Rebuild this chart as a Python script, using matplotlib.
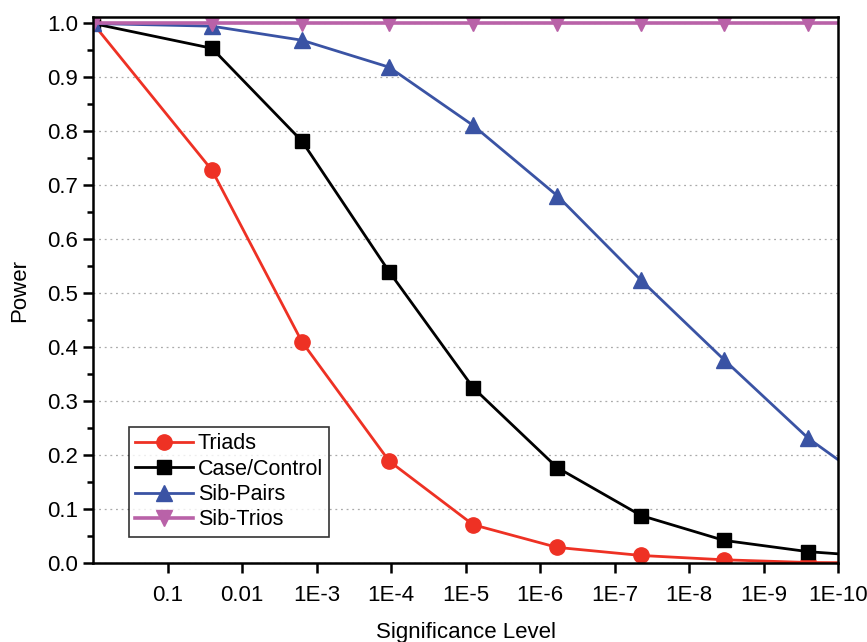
import numpy as np
import matplotlib
matplotlib.use('Agg')
import matplotlib.pyplot as plt
from matplotlib.ticker import MultipleLocator, NullLocator

plt.rcParams['font.family'] = ['Liberation Sans', 'DejaVu Sans']

# significance levels of the points
sig = [1, 2.53e-2, 1.57e-3, 1.06e-4, 7.9e-6, 5.9e-7, 4.4e-8, 3.4e-9, 2.5e-10, 1.9e-11]

triads = [1.0, 0.728, 0.41, 0.189, 0.071, 0.029, 0.014, 0.006, 0.001, 0.0]
case_control = [1.0, 0.954, 0.782, 0.54, 0.325, 0.177, 0.088, 0.042, 0.021, 0.010]
sib_pairs = [1.0, 0.995, 0.969, 0.919, 0.811, 0.681, 0.524, 0.377, 0.231, 0.12]
sib_trios = [1.0, 1.0, 1.0, 1.0, 1.0, 1.0, 1.0, 1.0, 1.0, 1.0]

tick_pos = [1e-1, 1e-2, 1e-3, 1e-4, 1e-5, 1e-6, 1e-7, 1e-8, 1e-9, 1e-10]
tick_lab = ['0.1', '0.01', '1E-3', '1E-4', '1E-5', '1E-6', '1E-7', '1E-8', '1E-9', '1E-10']

fig = plt.figure(figsize=(8.67, 6.42), dpi=100)
ax = fig.add_axes([0.1073, 0.123, 0.8593, 0.8505])

ax.plot(sig, triads, color='#EE3124', lw=2, marker='o', ms=11, label='Triads')
ax.plot(sig, case_control, color='black', lw=2, marker='s', ms=10, label='Case/Control')
ax.plot(sig, sib_pairs, color='#3A53A4', lw=2, marker='^', ms=12, label='Sib-Pairs')
ax.plot(sig, sib_trios, color='#B962A8', lw=2.6, marker='v', ms=12, label='Sib-Trios')

ax.set_xscale('log')
ax.set_xlim(1, 1e-10)
ax.set_ylim(0, 1.012)
ax.set_xticks(tick_pos)
ax.set_xticklabels(tick_lab)
ax.xaxis.set_minor_locator(NullLocator())
ax.yaxis.set_major_locator(MultipleLocator(0.1))
ax.yaxis.set_minor_locator(MultipleLocator(0.05))
ax.set_yticklabels(['%.1f' % v for v in ax.get_yticks()])
ax.set_ylim(0, 1.012)

ax.grid(axis='y', which='major', linestyle=(0, (1.5, 3)), color='#aaaaaa', lw=0.9)
ax.set_axisbelow(True)

for s in ax.spines.values():
    s.set_linewidth(1.8)
ax.tick_params(which='major', direction='out', length=7, width=1.8, labelsize=16)
ax.tick_params(which='minor', direction='out', length=4, width=1.8)
ax.tick_params(axis='x', pad=9)
ax.tick_params(axis='y', pad=4)

ax.set_xlabel('Significance Level', fontsize=16, labelpad=11)
ax.set_ylabel('Power', fontsize=16, labelpad=12)

leg = ax.legend(loc='lower left', bbox_to_anchor=(0.048, 0.048), fontsize=15.5,
                frameon=True, fancybox=False, edgecolor='black', handlelength=2.7,
                borderpad=0.3, labelspacing=0.2, handletextpad=0.2, borderaxespad=0)
leg.get_frame().set_linewidth(1.2)

fig.savefig('out.png', dpi=100)
